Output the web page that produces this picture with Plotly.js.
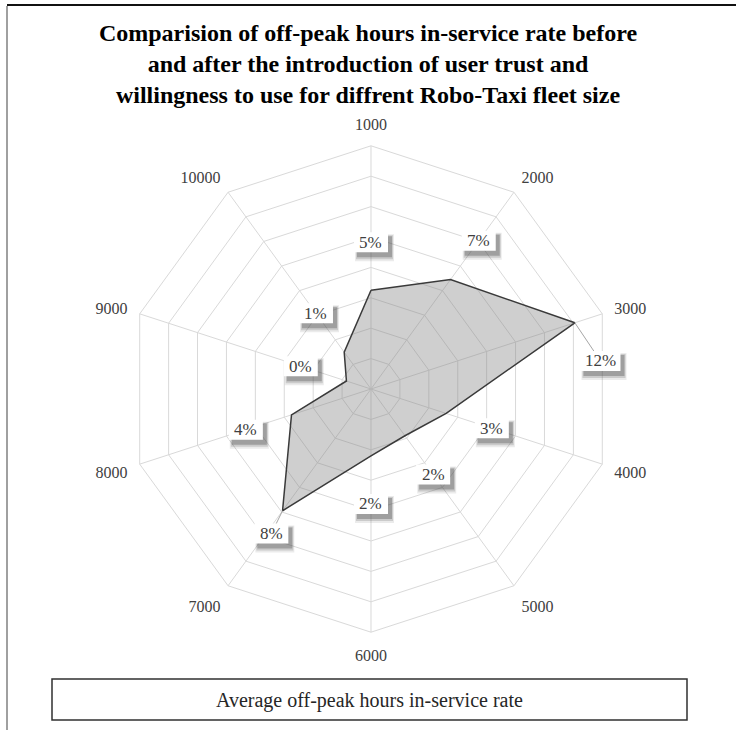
<!DOCTYPE html>
<html>
<head>
<meta charset="utf-8">
<script src="https://cdn.plot.ly/plotly-3.0.1.min.js"></script>
<style>html,body{margin:0;padding:0;background:#fff;}#chart{width:736px;height:730px;}</style>
</head>
<body>
<div id="chart"></div>
<script>
// ---- data ----
var fleetSizes = ['1000','2000','3000','4000','5000','6000','7000','8000','9000','10000'];
var inServiceRate = [4.5, 6.9, 12.1, 3.2, 1.8, 2.4, 7.9, 3.5, -0.3, 1.0]; // percent
var rateLabels = ['5%','7%','12%','3%','2%','2%','8%','4%','0%','1%'];
var seriesName = 'Average off-peak hours in-service rate';
var chartTitle = '<b>Comparision of off-peak hours in-service rate before<br>and after the introduction of user trust and<br>willingness to use for diffrent Robo-Taxi fleet size</b>';

// ---- geometry / style ----
var W = 736, H = 730;
var rRange = [-2, 14];
var dom = {x: [0.17364, 0.83451], y: [0.13397, 0.80027]};
var cx = W * (dom.x[0] + dom.x[1]) / 2;
var cy = H * (1 - (dom.y[0] + dom.y[1]) / 2);
var R = Math.min(W * (dom.x[1] - dom.x[0]), H * (dom.y[1] - dom.y[0])) / 2;
var labelGap = 48;
var labelNudge = {2: [-20, 53], 6: [17, -16]}; // manual label moves (px), with leader lines
var serif = 'Liberation Serif, Times New Roman, serif';

var thetaClosed = fleetSizes.concat([fleetSizes[0]]);
var rClosed = inServiceRate.concat([inServiceRate[0]]);

var traces = [{
  type: 'scatterpolar',
  r: rClosed,
  theta: thetaClosed,
  mode: 'lines',
  fill: 'toself',
  fillcolor: 'rgba(128,128,128,0.38)',
  line: {color: '#3a3a3a', width: 1.5},
  name: seriesName,
  showlegend: false,
  hoverinfo: 'skip'
}];

var annotations = [], shapes = [];
function px2x(px) { return px / W; }
function px2y(py) { return 1 - py / H; }
function rectPx(x0, y0, x1, y1, fill) {
  return {type: 'rect', xref: 'paper', yref: 'paper', x0: px2x(x0), x1: px2x(x1), y0: px2y(y1), y1: px2y(y0),
    line: {width: 0}, fillcolor: fill, layer: 'above'};
}

var leaderShapes = [], shadowShapes = [], boxShapes = [];
inServiceRate.forEach(function (v, i) {
  var ang = (90 - 36 * i) * Math.PI / 180;
  var rPt = (v - rRange[0]) / (rRange[1] - rRange[0]) * R;
  var ptx = cx + rPt * Math.cos(ang), pty = cy - rPt * Math.sin(ang);
  var rl = rPt + labelGap;
  var lx = cx + rl * Math.cos(ang), ly = cy - rl * Math.sin(ang);
  if (labelNudge[i]) {
    lx += labelNudge[i][0]; ly += labelNudge[i][1];
    leaderShapes.push({type: 'line', xref: 'paper', yref: 'paper', x0: px2x(ptx), y0: px2y(pty), x1: px2x(lx), y1: px2y(ly),
      line: {color: '#a6a6a6', width: 1}, layer: 'above'});
  }
  var hw = (rateLabels[i].length > 2 ? 40 : 34) / 2, hh = 10;
  shadowShapes.push(rectPx(lx - hw + 1, ly - hh + 2, lx + hw + 6, ly + hh + 9, 'rgba(60,60,60,0.10)'));
  shadowShapes.push(rectPx(lx - hw + 2, ly - hh + 3, lx + hw + 5, ly + hh + 7, 'rgba(60,60,60,0.18)'));
  shadowShapes.push(rectPx(lx - hw + 3, ly - hh + 4, lx + hw + 4, ly + hh + 5, 'rgba(60,60,60,0.30)'));
  boxShapes.push(rectPx(lx - hw, ly - hh, lx + hw, ly + hh, '#ffffff'));
  annotations.push({xref: 'paper', yref: 'paper', x: px2x(lx), y: px2y(ly), xanchor: 'center', yanchor: 'middle',
    text: rateLabels[i], showarrow: false, borderpad: 0,
    font: {family: serif, size: 17, color: '#404040'}});
});
shapes = shapes.concat(leaderShapes, shadowShapes, boxShapes);

// legend box
shapes.push({type: 'rect', xref: 'paper', yref: 'paper', x0: px2x(52), x1: px2x(687), y0: px2y(720), y1: px2y(679),
  line: {color: '#303030', width: 1.5}, fillcolor: 'rgba(0,0,0,0)'});
annotations.push({xref: 'paper', yref: 'paper', x: px2x(369), y: px2y(700), xanchor: 'center', yanchor: 'middle',
  text: seriesName, showarrow: false, font: {family: serif, size: 20, color: '#262626'}});
// frame
shapes.push({type: 'line', xref: 'paper', yref: 'paper', x0: px2x(7), x1: 1, y0: px2y(5), y1: px2y(5),
  line: {color: '#111111', width: 2}});
shapes.push({type: 'line', xref: 'paper', yref: 'paper', x0: px2x(7), x1: px2x(7), y0: px2y(6), y1: 0,
  line: {color: '#a0a0a0', width: 2}});

var layout = {
  width: W, height: H,
  margin: {l: 0, r: 0, t: 0, b: 0},
  paper_bgcolor: '#ffffff',
  showlegend: false,
  title: {text: chartTitle, font: {family: serif, size: 24, color: '#000000'},
    x: 0.5, xanchor: 'center', yref: 'container', y: px2y(41), yanchor: 'middle'},
  polar: {
    domain: dom,
    bgcolor: 'rgba(0,0,0,0)',
    gridshape: 'linear',
    angularaxis: {
      type: 'category', categoryorder: 'array', categoryarray: fleetSizes,
      direction: 'clockwise', rotation: 90,
      showline: true, linecolor: '#d9d9d9', linewidth: 1,
      gridcolor: '#d9d9d9', gridwidth: 1,
      ticks: 'outside', ticklen: 9, tickcolor: 'rgba(0,0,0,0)',
      tickfont: {family: serif, size: 16, color: '#404040'}
    },
    radialaxis: {
      range: rRange, tick0: 0, dtick: 2, showticklabels: false, ticks: '',
      showline: false, gridcolor: '#d9d9d9', gridwidth: 1
    }
  },
  shapes: shapes,
  annotations: annotations
};

Plotly.newPlot('chart', traces, layout, {displayModeBar: false, staticPlot: true});
</script>
</body>
</html>
